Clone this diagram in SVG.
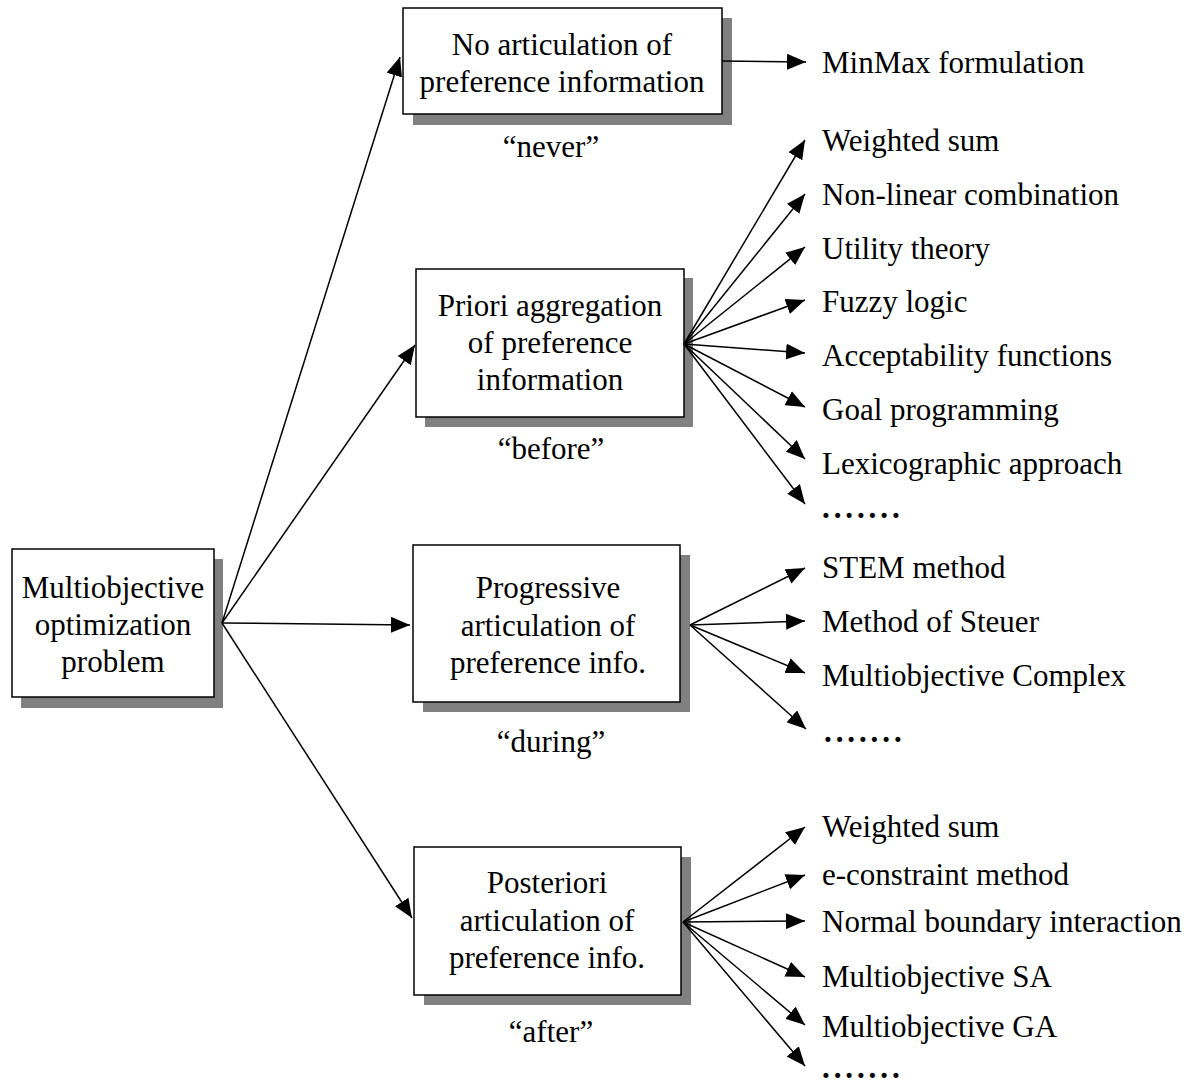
<svg xmlns="http://www.w3.org/2000/svg" width="1195" height="1086" viewBox="0 0 1195 1086">
  <defs>
    <style>
      text { font-family: "Liberation Serif", "Times New Roman", serif; font-size: 31px; fill: #000; }
      .c { text-anchor: middle; }
      .box { fill: #fff; stroke: #000; stroke-width: 1.5; }
      .shadow { fill: #808080; }
      .link { stroke: #000; stroke-width: 1.5; fill: none; marker-end: url(#arrow); }
      .dots { font-weight: bold; letter-spacing: 3.9px; }
    </style>
    <marker id="arrow" markerUnits="userSpaceOnUse" markerWidth="20" markerHeight="16" refX="19" refY="8" orient="auto">
      <path d="M0,0 L19,8 L0,16 Z" fill="#000"/>
    </marker>
  </defs>

  <rect width="1195" height="1086" fill="#fff"/>

  <!-- root node -->
  <g id="node-root">
    <rect class="shadow" x="21" y="559" width="202" height="149"/>
    <rect class="box" x="12" y="549" width="202" height="148"/>
    <text class="c" x="113" y="598">Multiobjective</text>
    <text class="c" x="113" y="635">optimization</text>
    <text class="c" x="113" y="672">problem</text>
  </g>

  <!-- category: never -->
  <g id="node-never">
    <rect class="shadow" x="413" y="18" width="319" height="107"/>
    <rect class="box" x="403" y="8" width="319" height="106"/>
    <text class="c" x="562" y="55">No articulation of</text>
    <text class="c" x="562" y="92">preference information</text>
    <text class="c" x="551" y="157">“never”</text>
  </g>

  <!-- category: before -->
  <g id="node-before">
    <rect class="shadow" x="425" y="278" width="268" height="149"/>
    <rect class="box" x="416" y="269" width="268" height="148"/>
    <text class="c" x="550" y="316">Priori aggregation</text>
    <text class="c" x="550" y="353">of preference</text>
    <text class="c" x="550" y="390">information</text>
    <text class="c" x="551" y="459">“before”</text>
  </g>

  <!-- category: during -->
  <g id="node-during">
    <rect class="shadow" x="423" y="555" width="267" height="157"/>
    <rect class="box" x="413" y="545" width="267" height="157"/>
    <text class="c" x="548" y="598">Progressive</text>
    <text class="c" x="548" y="636">articulation of</text>
    <text class="c" x="548" y="673">preference info.</text>
    <text class="c" x="551" y="752">“during”</text>
  </g>

  <!-- category: after -->
  <g id="node-after">
    <rect class="shadow" x="424" y="857" width="267" height="148"/>
    <rect class="box" x="414" y="847" width="267" height="148"/>
    <text class="c" x="547" y="893">Posteriori</text>
    <text class="c" x="547" y="931">articulation of</text>
    <text class="c" x="547" y="968">preference info.</text>
    <text class="c" x="551" y="1042">“after”</text>
  </g>

  <!-- connectors, drawn over the box shadows -->
  <g id="connectors">
    <!-- root to the four categories -->
    <line class="link" x1="222" y1="623" x2="400" y2="57"/>
    <line class="link" x1="222" y1="623" x2="415" y2="345"/>
    <line class="link" x1="222" y1="623" x2="410" y2="625"/>
    <line class="link" x1="222" y1="623" x2="412" y2="918"/>
    <!-- no articulation -->
    <line class="link" x1="722" y1="61" x2="806" y2="62"/>
    <!-- priori fan -->
    <line class="link" x1="684" y1="344" x2="805" y2="140"/>
    <line class="link" x1="684" y1="344" x2="805" y2="194"/>
    <line class="link" x1="684" y1="344" x2="805" y2="247"/>
    <line class="link" x1="684" y1="344" x2="805" y2="300"/>
    <line class="link" x1="684" y1="344" x2="805" y2="353"/>
    <line class="link" x1="684" y1="344" x2="805" y2="407"/>
    <line class="link" x1="684" y1="344" x2="805" y2="459"/>
    <line class="link" x1="684" y1="344" x2="805" y2="504"/>
    <!-- progressive fan -->
    <line class="link" x1="690" y1="625" x2="805" y2="568"/>
    <line class="link" x1="690" y1="625" x2="805" y2="621"/>
    <line class="link" x1="690" y1="625" x2="805" y2="673"/>
    <line class="link" x1="690" y1="625" x2="806" y2="729"/>
    <!-- posteriori fan -->
    <line class="link" x1="683" y1="922" x2="805" y2="827"/>
    <line class="link" x1="683" y1="922" x2="805" y2="875"/>
    <line class="link" x1="683" y1="922" x2="805" y2="921"/>
    <line class="link" x1="683" y1="922" x2="805" y2="977"/>
    <line class="link" x1="683" y1="922" x2="805" y2="1025"/>
    <line class="link" x1="683" y1="922" x2="805" y2="1066"/>
  </g>

  <!-- method labels -->
  <g id="methods">
    <text x="822" y="73">MinMax formulation</text>

    <text x="822" y="151">Weighted sum</text>
    <text x="822" y="205">Non-linear combination</text>
    <text x="822" y="259">Utility theory</text>
    <text x="822" y="312">Fuzzy logic</text>
    <text x="822" y="366">Acceptability functions</text>
    <text x="822" y="420">Goal programming</text>
    <text x="822" y="474">Lexicographic approach</text>
    <text class="dots" x="822" y="518">.......</text>

    <text x="822" y="578">STEM method</text>
    <text x="822" y="632">Method of Steuer</text>
    <text x="822" y="686">Multiobjective Complex</text>
    <text class="dots" x="824" y="742">.......</text>

    <text x="822" y="837">Weighted sum</text>
    <text x="822" y="885">e-constraint method</text>
    <text x="822" y="932">Normal boundary interaction</text>
    <text x="822" y="987">Multiobjective SA</text>
    <text x="822" y="1037">Multiobjective GA</text>
    <text class="dots" x="822" y="1078">.......</text>
  </g>
</svg>
